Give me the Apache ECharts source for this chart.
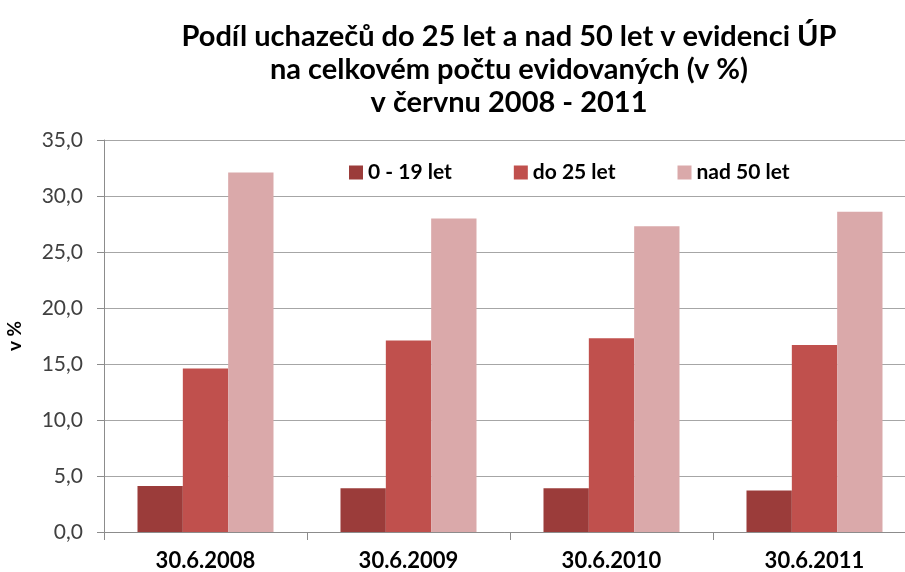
<!DOCTYPE html>
<html>
<head>
<meta charset="utf-8">
<script src="https://cdn.jsdelivr.net/npm/echarts@6/dist/echarts.min.js"></script>
<style>
  html, body { margin: 0; padding: 0; background: #fff; }
  #chart { width: 905px; height: 572px; }
</style>
</head>
<body>
<div id="chart"></div>
<script>
  var categories = ['30.6.2008', '30.6.2009', '30.6.2010', '30.6.2011'];
  var seriesNames = ['0 - 19 let', 'do 25 let', 'nad 50 let'];
  var young = [4.1, 3.9, 3.9, 3.7];
  var under25 = [14.6, 17.1, 17.3, 16.7];
  var over50 = [32.1, 28.0, 27.3, 28.6];
  var colors = ['#9b3c3a', '#c0504d', '#daa9aa'];

  var chart = echarts.init(document.getElementById('chart'));
  var font = 'Lato, "Open Sans", sans-serif';

  chart.setOption({
    backgroundColor: '#fff',
    animation: false,
    title: {
      text: 'Podíl uchazečů do 25 let a nad 50 let v evidenci ÚP\nna celkovém počtu evidovaných (v %)\nv červnu 2008 - 2011',
      left: 504,
      textAlign: 'center',
      top: 15,
      textStyle: { fontFamily: font, fontWeight: 'bold', fontSize: 29, lineHeight: 33, color: '#000' }
    },
    legend: {
      top: 157,
      left: 344,
      itemGap: 62,
      itemWidth: 14,
      itemHeight: 14,
      icon: 'rect',
      textStyle: { fontFamily: font, fontWeight: 'bold', fontSize: 21, color: '#000' },
      data: seriesNames
    },
    grid: { left: 104, width: 812, top: 140, bottom: 40, outerBoundsMode: 'none', containLabel: false },
    xAxis: {
      type: 'category',
      data: categories,
      axisLine: { lineStyle: { color: '#8c8c8c', width: 1 } },
      axisTick: { show: true, length: 8, lineStyle: { color: '#8c8c8c' } },
      axisLabel: { fontFamily: font, fontWeight: 'bold', fontSize: 22, color: '#000', margin: 18 }
    },
    yAxis: {
      type: 'value',
      min: 0,
      max: 35,
      interval: 5,
      name: 'v %',
      nameLocation: 'middle',
      nameGap: 80,
      nameRotate: 90,
      nameTextStyle: { fontFamily: font, fontWeight: 'bold', fontSize: 19, color: '#000' },
      axisLine: { show: true, lineStyle: { color: '#8c8c8c' } },
      axisTick: { show: true, length: 7, lineStyle: { color: '#8c8c8c' } },
      axisLabel: {
        fontFamily: font, fontSize: 21, color: '#404040', margin: 21,
        formatter: function (v) { return v.toFixed(1).replace('.', ','); }
      },
      splitLine: { lineStyle: { color: '#a6a6a6', width: 1 } }
    },
    series: [
      { name: seriesNames[0], type: 'bar', data: young, barGap: '0%', barCategoryGap: '33%', itemStyle: { color: colors[0] } },
      { name: seriesNames[1], type: 'bar', data: under25, barGap: '0%', barCategoryGap: '33%', itemStyle: { color: colors[1] } },
      { name: seriesNames[2], type: 'bar', data: over50, barGap: '0%', barCategoryGap: '33%', itemStyle: { color: colors[2] } }
    ]
  });
</script>
</body>
</html>
